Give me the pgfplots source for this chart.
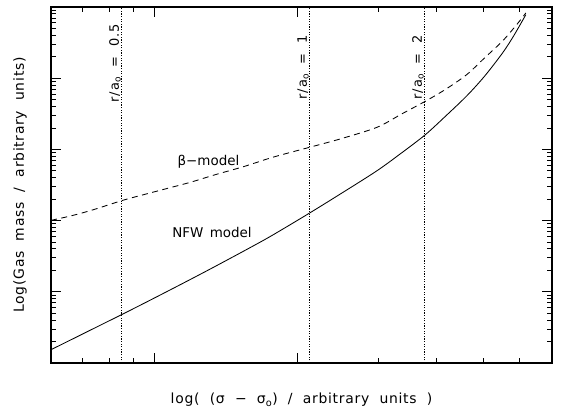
\documentclass[border=0pt]{standalone}
\usepackage{fontspec}
\setmainfont{DejaVu Sans}
\newfontfamily\lblfont{DejaVu Sans}[LetterSpace=5,WordSpace=2]
\newfontfamily\txtfont{DejaVu Sans}[WordSpace=1.5]
\newfontfamily\rfont{DejaVu Sans}[LetterSpace=9,WordSpace=1.8]
\usepackage{pgfplots}
\pgfplotsset{compat=1.18}

\begin{document}
\begin{tikzpicture}[x=1bp,y=1bp]
\useasboundingbox (0,0) rectangle (562,409);
\begin{axis}[
    at={(51bp,46bp)}, anchor=south west,
    scale only axis, width=501bp, height=356bp,
    xmin=-0.720, xmax=2.783,
    ymode=log, ymin=1, ymax=1e5,
    log basis y=10,
    xtick={0,1}, xticklabels={},
    minor xtick={-0.503,-0.308,-0.147,1.566,1.972,2.301,2.552},
    ytick={1,10,100,1000,10000,100000}, yticklabels={},
    minor ytick={2,3,4,5,6,7,8,9,20,30,40,50,60,70,80,90,200,300,400,500,600,700,800,900,
                 2000,3000,4000,5000,6000,7000,8000,9000,20000,30000,40000,50000,60000,70000,80000,90000},
    tick pos=both, tick align=inside,
    major tick length=10bp, minor tick length=5bp,
    axis line style={line width=1.2pt},
    tick style={black, line width=0.9pt},
    minor tick style={black, line width=0.9pt},
    xlabel={log(  (σ − σ\textsubscript{o})  /  arbitrary  units  )},
    ylabel={Log(Gas  mass  /  arbitrary  units)},
    xlabel style={at={(axis description cs:0.5,-0.104)}, anchor=center,
                  font=\lblfont\fontsize{14}{16}\selectfont},
    ylabel style={at={(axis description cs:-0.0619,0.5)}, anchor=center,
                  font=\lblfont\fontsize{14}{16}\selectfont},
]
% NFW model
\addplot[black, line width=0.85pt, smooth] coordinates {
    (-0.720,1.538) (-0.218,4.875) (0.003,8.185) (0.229,14.03) (0.429,22.80)
    (0.680,42.56) (0.831,62.81) (1.087,127.4) (1.308,239.9) (1.559,501.2)
    (1.734,901.6) (1.897,1607) (2.035,2884) (2.186,5623) (2.311,10641)
    (2.437,22594) (2.513,38726) (2.600,77983)
};
% beta model
\addplot[black, line width=0.85pt, smooth, dash pattern=on 6bp off 4.5bp] coordinates {
    (-0.720,100.9) (-0.575,117.2) (-0.424,142.2) (-0.218,192.8) (-0.073,231.2)
    (0.078,278.0) (0.254,345.1) (0.429,441.6) (0.630,575.4) (0.831,776.2)
    (1.087,1069) (1.308,1413) (1.559,2042) (1.734,3162) (1.897,4742)
    (2.035,6902) (2.186,11194) (2.311,19231) (2.437,33266) (2.538,57148)
    (2.600,82414)
};
% r/a0 markers
\addplot[black, line width=0.8pt, dash pattern=on 1.3bp off 1.3bp] coordinates {(-0.226,1) (-0.226,1e5)};
\addplot[black, line width=0.8pt, dash pattern=on 1.3bp off 1.3bp] coordinates {(1.088,1) (1.088,1e5)};
\addplot[black, line width=0.8pt, dash pattern=on 1.3bp off 1.3bp] coordinates {(1.890,1) (1.890,1e5)};

\node[font=\txtfont\fontsize{13.5}{15}\selectfont] at (axis cs:0.406,69.2) {NFW model};
\node[font=\txtfont\fontsize{13.5}{15}\selectfont] at (axis cs:0.381,665) {β−model};
\node[rotate=90, anchor=west, inner sep=0pt, font=\rfont\fontsize{13}{15}\selectfont]
    at (axis cs:-0.273,4487) {r/a\textsubscript{o} = 0.5};
\node[rotate=90, anchor=west, inner sep=0pt, font=\rfont\fontsize{13}{15}\selectfont]
    at (axis cs:1.042,4943) {r/a\textsubscript{o} = 1};
\node[rotate=90, anchor=west, inner sep=0pt, font=\rfont\fontsize{13}{15}\selectfont]
    at (axis cs:1.846,4943) {r/a\textsubscript{o} = 2};
\end{axis}
\end{tikzpicture}
\end{document}
